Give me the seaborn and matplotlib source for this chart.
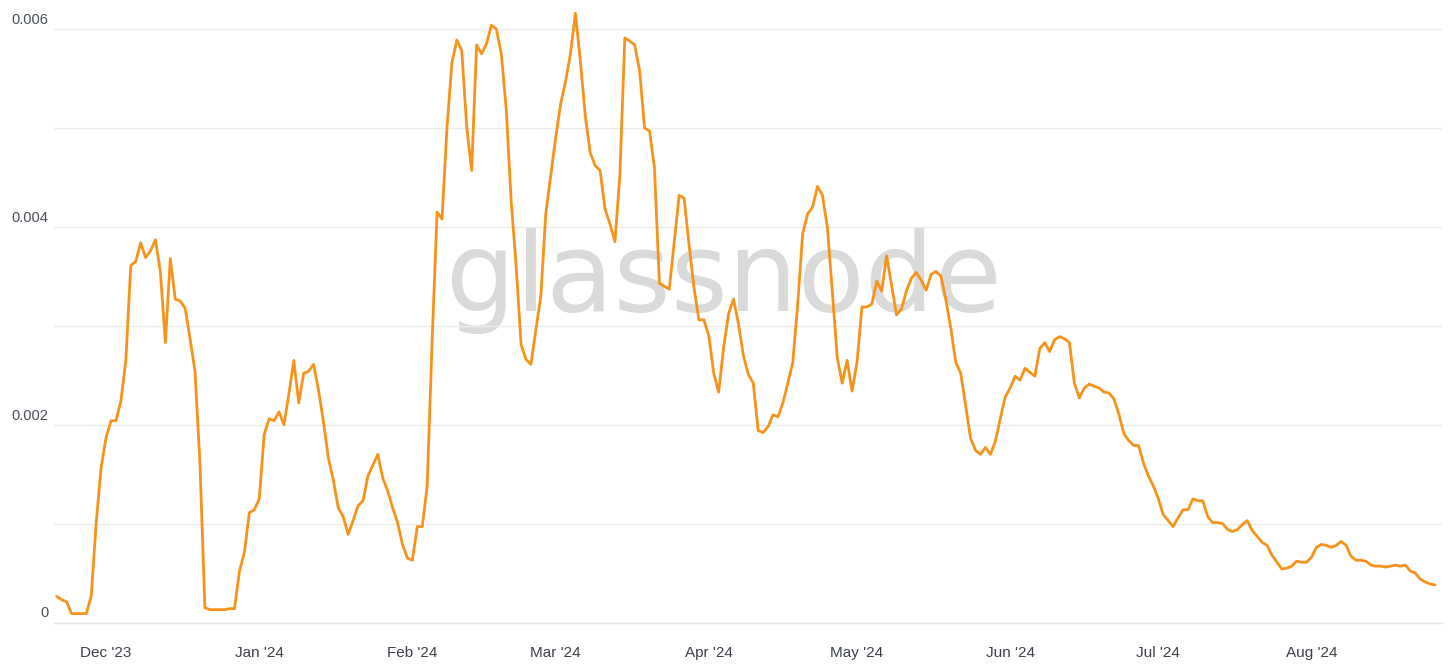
import matplotlib

matplotlib.use("Agg")
import matplotlib.pyplot as plt
import matplotlib.transforms as mtransforms
import pandas as pd
import seaborn as sns

# daily series, 2023-11-21 .. 2024-08-26
START_DATE = "2023-11-21"
VALUES = [
    # Nov 21 - Nov 30
    0.000264, 0.00023, 0.00021, 0.00009, 0.00009, 0.00009, 0.00009, 0.00027, 0.00101, 0.00157,
    # Dec
    0.00187, 0.00204, 0.00204, 0.00224, 0.00265, 0.00361, 0.00365, 0.00384, 0.00369, 0.00376,
    0.00387, 0.00354, 0.00283, 0.00368, 0.00327, 0.00325, 0.00318, 0.00287, 0.00254, 0.00161,
    0.00015, 0.00013, 0.00013, 0.00013, 0.00013, 0.00014, 0.00014, 0.00052, 0.00071, 0.00111,
    0.00114,
    # Jan
    0.00125, 0.0019, 0.00206, 0.00204, 0.00213, 0.002, 0.00231, 0.00265, 0.00222, 0.00252,
    0.00254, 0.00261, 0.00235, 0.00203, 0.00166, 0.00144, 0.00116, 0.00107, 0.00089, 0.00103,
    0.00118, 0.00123, 0.00148, 0.00159, 0.0017, 0.00146, 0.00133, 0.00116, 0.00101, 0.00079,
    0.00065,
    # Feb
    0.00063, 0.00097, 0.00097, 0.00138, 0.00285, 0.00415, 0.00408, 0.005, 0.00566, 0.00589,
    0.00578, 0.00501, 0.00457, 0.00584, 0.00575, 0.00585, 0.00604, 0.006, 0.00575, 0.00519,
    0.00426, 0.00361, 0.00281, 0.00266, 0.00261, 0.00296, 0.0033, 0.00413, 0.00452,
    # Mar
    0.0049, 0.00524, 0.00547, 0.00575, 0.00616, 0.00568, 0.00512, 0.00475, 0.00462, 0.00457,
    0.00418, 0.00403, 0.00385, 0.00452, 0.00591, 0.00588, 0.00584, 0.00558, 0.005, 0.00497,
    0.0046, 0.00343, 0.0034, 0.00337, 0.00384, 0.00432, 0.00429, 0.00382, 0.00339, 0.00306,
    0.00306,
    # Apr
    0.0029, 0.00252, 0.00233, 0.00278, 0.00312, 0.00327, 0.00302, 0.0027, 0.00251, 0.00242,
    0.00194, 0.00192, 0.00198, 0.0021, 0.00208, 0.00222, 0.00242, 0.00263, 0.00322, 0.00393,
    0.00413, 0.0042, 0.00441, 0.00432, 0.004, 0.00335, 0.00268, 0.00242, 0.00265, 0.00234,
    # May
    0.00263, 0.00319, 0.00319, 0.00322, 0.00345, 0.00335, 0.00371, 0.00341, 0.00311, 0.00317,
    0.00335, 0.00348, 0.00354, 0.00346, 0.00336, 0.00352, 0.00355, 0.0035, 0.00326, 0.00297,
    0.00263, 0.00252, 0.00219, 0.00186, 0.00174, 0.0017, 0.00177, 0.0017, 0.00183, 0.00206,
    0.00228,
    # Jun
    0.00237, 0.00249, 0.00245, 0.00257, 0.00253, 0.00249, 0.00277, 0.00283, 0.00274, 0.00286,
    0.00289, 0.00287, 0.00283, 0.00242, 0.00227, 0.00237, 0.00241, 0.00239, 0.00237, 0.00233,
    0.00232, 0.00226, 0.00211, 0.00191, 0.00184, 0.00179, 0.00179, 0.00161, 0.00148, 0.00138,
    # Jul
    0.00125, 0.00109, 0.00103, 0.00097, 0.00106, 0.00114, 0.00114, 0.00125, 0.00123, 0.00123,
    0.00107, 0.00101, 0.00101, 0.001, 0.00094, 0.00092, 0.00094, 0.00099, 0.00103, 0.00093,
    0.00087, 0.00081, 0.00078, 0.00068, 0.00061, 0.00054, 0.00055, 0.00057, 0.00062, 0.00061,
    0.00061,
    # Aug 1 - Aug 26
    0.00066, 0.00076, 0.00079, 0.00078, 0.00076, 0.00078, 0.00082, 0.00078, 0.00067, 0.00063,
    0.00063, 0.00062, 0.00058, 0.00057, 0.00057, 0.00056, 0.00057, 0.00058, 0.00057, 0.00058,
    0.00052, 0.0005, 0.00044, 0.00041, 0.00039, 0.00038,
]

TICK_DATES = ["2023-12-01", "2024-01-01", "2024-02-01", "2024-03-01", "2024-04-01",
              "2024-05-01", "2024-06-01", "2024-07-01", "2024-08-01"]
TICK_LABELS = ["Dec '23", "Jan '24", "Feb '24", "Mar '24", "Apr '24",
               "May '24", "Jun '24", "Jul '24", "Aug '24"]
Y_TICKS = [0, 0.001, 0.002, 0.003, 0.004, 0.005, 0.006]
Y_LABELS = ["0", "", "0.002", "", "0.004", "", "0.006"]

LINE_COLOR = "#f7931a"

df = pd.DataFrame({
    "date": pd.date_range(START_DATE, periods=len(VALUES), freq="D"),
    "value": VALUES,
})

sns.set_theme(style="white")
plt.rcParams["font.family"] = ["Liberation Sans", "DejaVu Sans"]

fig = plt.figure(figsize=(14.49, 6.72), dpi=100)
W, H = 1449, 672
ax = fig.add_axes([54 / W, (H - 622.5) / H, (1442 - 54) / W, (622.5 - 2) / H])

# watermark behind the line
ax.text(0.4825, 0.502, "glassnode", transform=ax.transAxes, ha="center", va="baseline",
        fontsize=79, color="#dadada", family="DejaVu Sans", zorder=0)

sns.lineplot(data=df, x="date", y="value", color=LINE_COLOR, linewidth=2.0, ax=ax, zorder=3)

ax.set_xlim(pd.Timestamp(START_DATE) - pd.Timedelta(hours=13),
            df["date"].iloc[-1] + pd.Timedelta(hours=34))
ax.set_ylim(0, 0.006274)

ax.set_yticks(Y_TICKS)
ax.set_yticklabels(Y_LABELS)
ax.set_xticks(pd.to_datetime(TICK_DATES))
ax.set_xticklabels(TICK_LABELS)
ax.set_xlabel("")
ax.set_ylabel("")

ax.grid(axis="y", color="#ececec", linewidth=1.0)
ax.grid(axis="x", visible=False)
for side in ["top", "right", "left"]:
    ax.spines[side].set_visible(False)
ax.spines["bottom"].set_color("#e3e3e3")
ax.spines["bottom"].set_linewidth(1.0)

ax.tick_params(axis="x", length=9, width=1, color="#e3e3e3", pad=8,
               labelsize=11, labelcolor="#3c4049")
ax.tick_params(axis="y", length=0, pad=4, labelsize=10.5, labelcolor="#4a4f58")

offset = mtransforms.ScaledTranslation(0, 1.5 / 72, fig.dpi_scale_trans)
for lab in ax.get_yticklabels():
    lab.set_verticalalignment("bottom")
    lab.set_transform(lab.get_transform() + offset)

fig.savefig("out.png", dpi=100, facecolor="white")
